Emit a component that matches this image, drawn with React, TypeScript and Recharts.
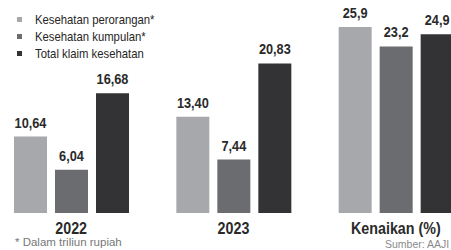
import React from 'react';
import { BarChart, Bar, XAxis, YAxis, LabelList, Legend } from 'recharts';

const categories = ['2022', '2023', 'Kenaikan (%)'];
const perorangan = [10.64, 13.4, 25.9];
const kumpulan = [6.04, 7.44, 23.2];
const totalKlaim = [16.68, 20.83, 24.9];
const labelDecimals = [2, 2, 1];
const seriesNames = ['Kesehatan perorangan*', 'Kesehatan kumpulan*', 'Total klaim kesehatan'];
const seriesColors = ['#a6a8ab', '#6b6c6f', '#333234'];
const footnote = '* Dalam triliun rupiah';
const source = 'Sumber: AAJI';

const FONT = "'Liberation Sans', Arial, sans-serif";

const fmt = (v: number, d: number) => v.toFixed(d).replace('.', ',');

const data = categories.map((c, i) => ({
  cat: c,
  perorangan: perorangan[i],
  kumpulan: kumpulan[i],
  total: totalKlaim[i],
  peroranganLabel: fmt(perorangan[i], labelDecimals[i]),
  kumpulanLabel: fmt(kumpulan[i], labelDecimals[i]),
  totalLabel: fmt(totalKlaim[i], labelDecimals[i]),
}));

const XTick = (props: any) => {
  const { x, y, payload } = props;
  const s = 0.84;
  return (
    <text
      x={x}
      y={y + 21}
      textAnchor="middle"
      fontFamily={FONT}
      fontWeight="bold"
      fontSize={17}
      fill="#2a2a2a"
      transform={`translate(${x},0) scale(${s},1) translate(${-x},0)`}
    >
      {payload.value}
    </text>
  );
};

const ValueLabel = (props: any) => {
  const { x, y, width, value } = props;
  const cx = Number(x) + Number(width) / 2;
  const s = 0.85;
  return (
    <text
      x={cx}
      y={Number(y) - 9}
      textAnchor="middle"
      fontFamily={FONT}
      fontWeight="bold"
      fontSize={15}
      fill="#2a2a2a"
      transform={`translate(${cx},0) scale(${s},1) translate(${-cx},0)`}
    >
      {value}
    </text>
  );
};

const LegendContent = (props: any) => {
  const items = [...(props.payload || [])].sort(
    (a: any, b: any) => seriesNames.indexOf(a.value) - seriesNames.indexOf(b.value)
  );
  return (
    <div style={{ fontFamily: FONT }}>
      {items.map((p: any, i: number) => (
        <div key={i} style={{ display: 'flex', alignItems: 'center', height: 17, fontSize: 13, color: '#262626', whiteSpace: 'nowrap' }}>
          <span style={{ display: 'inline-block', width: 5, height: 5, background: p.color, marginRight: 13 }} />
          <span style={{ display: 'inline-block', transform: 'scaleX(0.87)', transformOrigin: 'left center' }}>{p.value}</span>
        </div>
      ))}
    </div>
  );
};

export default function App() {
  return (
    <div style={{ position: 'absolute', left: 0, top: 0, width: 451, height: 250, overflow: 'hidden', background: '#fff' }}>
      <div style={{ position: 'absolute', left: -20, top: 0 }}>
        <BarChart
          width={502}
          height={250}
          data={data}
          margin={{ top: 12, right: 5, left: 10, bottom: 0 }}
          barSize={33}
          barGap={8}
        >
          <XAxis
            dataKey="cat"
            axisLine={false}
            tickLine={false}
            tickSize={0}
            tickMargin={0}
            height={37}
            interval={0}
            tick={<XTick />}
          />
          <YAxis hide domain={[0, 28]} />
          <Legend
            layout="vertical"
            align="center"
            verticalAlign="middle"
            itemSorter={(item: any) => seriesNames.indexOf(item.value)}
            content={<LegendContent />}
            wrapperStyle={{ left: 37, top: 11, width: 'auto' }}
          />
          <Bar dataKey="perorangan" name={seriesNames[0]} fill={seriesColors[0]} isAnimationActive={false}>
            <LabelList dataKey="peroranganLabel" content={<ValueLabel />} />
          </Bar>
          <Bar dataKey="kumpulan" name={seriesNames[1]} fill={seriesColors[1]} isAnimationActive={false}>
            <LabelList dataKey="kumpulanLabel" content={<ValueLabel />} />
          </Bar>
          <Bar dataKey="total" name={seriesNames[2]} fill={seriesColors[2]} isAnimationActive={false}>
            <LabelList dataKey="totalLabel" content={<ValueLabel />} />
          </Bar>
        </BarChart>
      </div>
      <div style={{ position: 'absolute', left: 15, top: 236, fontFamily: FONT, fontSize: 11.5, color: '#777', whiteSpace: 'nowrap', lineHeight: '13px' }}>
        {footnote}
      </div>
      <div style={{ position: 'absolute', left: 385, top: 238, fontFamily: FONT, fontSize: 10.5, color: '#8a8a8a', whiteSpace: 'nowrap', lineHeight: '13px' }}>
        {source}
      </div>
    </div>
  );
}
